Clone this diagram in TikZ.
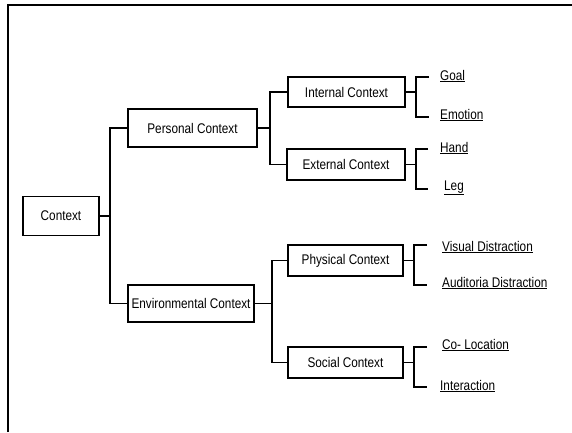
\documentclass[tikz,border=0pt]{standalone}
\usepackage{fontspec}
\setmainfont{Liberation Sans}[FakeStretch=0.84]
\usetikzlibrary{positioning}

\tikzset{
  ctxbox/.style={draw,line width=1.7pt,inner sep=0pt,font=\fontsize{14}{16}\selectfont},
  leaf/.style={anchor=base west,inner sep=0pt,font=\fontsize{14}{16}\selectfont},
  link/.style={line width=1.7pt}
}

\begin{document}
\begin{tikzpicture}[x=1pt,y=-1pt]
    \useasboundingbox (0,0) rectangle (572,432);
    \draw[line width=1.7pt] (8,432) -- (8,5) -- (572,5);

    \node[ctxbox,minimum width=76pt,minimum height=39pt] (ctx) at (61,216) {Context};
    \node[ctxbox,minimum width=129pt,minimum height=38pt] (personal) at (192.5,128) {Personal Context};
    \node[ctxbox,minimum width=126pt,minimum height=37pt] (environ) at (191,303.5) {Environmental Context};
    \node[ctxbox,minimum width=117pt,minimum height=30pt] (internal) at (346.5,92) {Internal Context};
    \node[ctxbox,minimum width=118pt,minimum height=31pt] (external) at (346,164.5) {External Context};
    \node[ctxbox,minimum width=115pt,minimum height=31pt] (physical) at (345.5,260.5) {Physical Context};
    \node[ctxbox,minimum width=115pt,minimum height=31pt] (social) at (345.5,362.5) {Social Context};

    \node[leaf] (goal) at (440,80) {\underline{Goal}};
    \node[leaf] (emotion) at (440,119) {\underline{Emotion}};
    \node[leaf] (hand) at (440,152) {\underline{Hand}};
    \node[leaf] (leg) at (444,190) {\underline{Leg}};
    \node[leaf] (visual) at (442,251) {\underline{Visual Distraction}};
    \node[leaf] (auditoria) at (442,287) {\underline{Auditoria Distraction}};
    \node[leaf] (coloc) at (442,349) {\underline{Co- Location}};
    \node[leaf] (interact) at (440,390) {\underline{Interaction}};

    \coordinate (j0) at (110,216);
    \coordinate (j1) at (270,128);
    \coordinate (j2) at (272,303.5);
    \draw[link] (ctx.east) -- (j0);
    \draw[link] (personal.west) -| (j0) |- (environ.west);
    \draw[link] (personal.east) -- (j1);
    \draw[link] (internal.west) -| (j1) |- (external.west);
    \draw[link] (environ.east) -- (j2);
    \draw[link] (physical.west) -| (j2) |- (social.west);

    \coordinate (j3) at (416,92);
    \coordinate (goalend) at (429,77);
    \coordinate (emotionend) at (429,117);
    \draw[link] (internal.east) -- (j3);
    \draw[link] (goalend) -| (j3) |- (emotionend);

    \coordinate (j4) at (416,164.5);
    \coordinate (handend) at (428,149);
    \coordinate (legend) at (428,189);
    \draw[link] (external.east) -- (j4);
    \draw[link] (handend) -| (j4) |- (legend);

    \coordinate (j5) at (414,260.5);
    \coordinate (visualend) at (427,245);
    \coordinate (auditoriaend) at (427,285);
    \draw[link] (physical.east) -- (j5);
    \draw[link] (visualend) -| (j5) |- (auditoriaend);

    \coordinate (j6) at (414,362.5);
    \coordinate (colocend) at (427,347);
    \coordinate (interactend) at (427,387);
    \draw[link] (social.east) -- (j6);
    \draw[link] (colocend) -| (j6) |- (interactend);
\end{tikzpicture}
\end{document}
